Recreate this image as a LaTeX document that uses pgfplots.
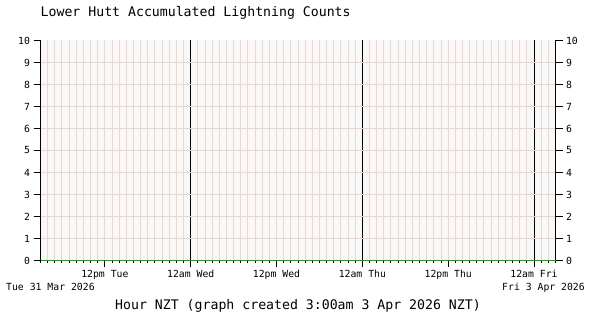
\documentclass[border=0pt]{standalone}
\usepackage{pgfplots}
\pgfplotsset{compat=1.18}
\usepackage{fontspec}
\setmainfont{DejaVu Sans Mono}
\definecolor{gridc}{RGB}{236,214,204}
\definecolor{bgc}{RGB}{248,248,248}
\definecolor{linec}{RGB}{0,175,0}
\begin{document}
\begin{tikzpicture}
\path[use as bounding box] (0,0) rectangle (600pt,320pt);
\begin{axis}[
  at={(40.5pt,59.5pt)}, anchor=south west,
  scale only axis, width=515pt, height=220pt,
  xmin=0, xmax=72, ymin=0, ymax=10,
  axis x line=bottom, axis y line=left,
  axis line style={-, line width=1pt, black},
  x axis line style={-, line width=1.8pt, linec},
  xtick={9,21,33,45,57,69},
  xticklabels={12pm Tue,12am Wed,12pm Wed,12am Thu,12pm Thu,12am Fri},
  minor xtick={0,1,...,72},
  ytick={0,1,...,10},
  tick align=outside,
  major tick length=7pt, minor tick length=3pt,
  every tick/.style={black, line width=1pt},
  xmajorgrids=true, xminorgrids=true, ymajorgrids=false,
  major grid style={gridc, line width=1pt},
  minor grid style={gridc, line width=1pt},
  extra x ticks={21,45,69},
  extra x tick labels={},
  extra x tick style={major grid style={black, line width=1pt}},
  extra y ticks={1,2,...,9},
  extra y tick labels={},
  extra y tick style={ymajorgrids=true},
  axis background/.style={fill=bgc},
  tick label style={font=\fontsize{9.8}{10}\selectfont},
  /pgf/number format/assume math mode=true,
  xticklabel style={anchor=base, yshift=-10pt},
  yticklabel style={anchor=east},
  title={Lower Hutt Accumulated Lightning Counts},
  title style={at={(rel axis cs:0,1)}, anchor=base west, yshift=18pt, inner sep=0pt, font=\fontsize{13.2}{14}\selectfont},
  xlabel={Hour NZT (graph created 3:00am 3 Apr 2026 NZT)},
  xlabel style={at={(rel axis cs:0.5,0)}, anchor=base, yshift=-49pt, inner sep=0pt, font=\fontsize{13.2}{14}\selectfont},
  clip=false,
]
\addplot[linec, line width=1.8pt] coordinates {
(0,0) (6,0) (12,0) (18,0) (24,0) (30,0) (36,0) (42,0) (48,0) (54,0) (60,0) (66,0) (72,0)};
\end{axis}
\begin{axis}[
  at={(40.5pt,59.5pt)}, anchor=south west,
  scale only axis, width=515pt, height=220pt,
  xmin=0, xmax=72, ymin=0, ymax=10,
  axis x line=none, axis y line=right,
  axis line style={-, line width=1pt, black},
  ytick={0,1,...,10},
  tick align=outside,
  major tick length=7pt,
  every tick/.style={black, line width=1pt},
  tick label style={font=\fontsize{9.8}{10}\selectfont},
  /pgf/number format/assume math mode=true,
  yticklabel style={anchor=west},
]
\addplot[draw=none] coordinates {(0,0) (72,0)};
\end{axis}
\node[anchor=base west, inner sep=0pt, font=\fontsize{9.8}{10}\selectfont] at (6pt,29pt) {Tue 31 Mar 2026};
\node[anchor=base east, inner sep=0pt, font=\fontsize{9.8}{10}\selectfont] at (585pt,29pt) {Fri 3 Apr 2026};
\end{tikzpicture}
\end{document}
